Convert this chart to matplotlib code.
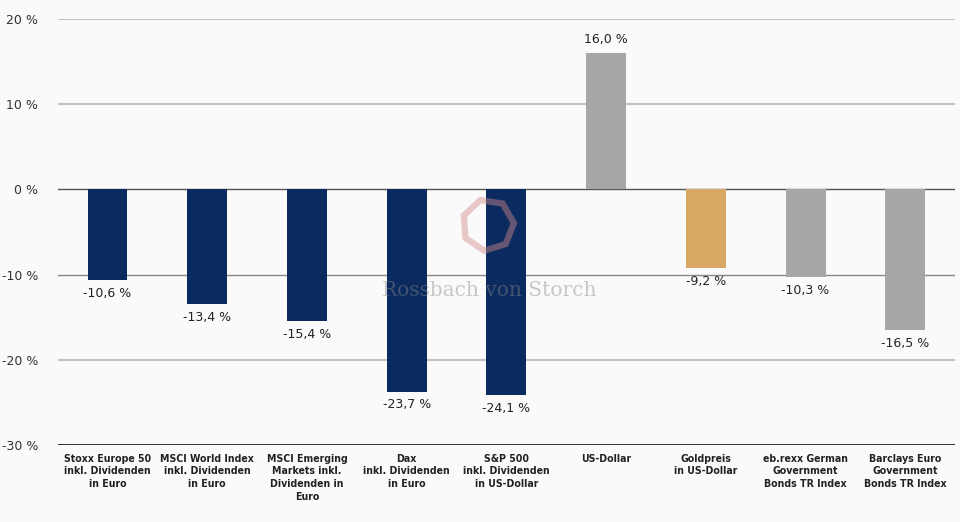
import matplotlib.pyplot as plt
from matplotlib.patches import RegularPolygon
from matplotlib.transforms import IdentityTransform

# Daten
kategorien = [
    "Stoxx Europe 50\ninkl. Dividenden\nin Euro",
    "MSCI World Index\ninkl. Dividenden\nin Euro",
    "MSCI Emerging\nMarkets inkl.\nDividenden in\nEuro",
    "Dax\ninkl. Dividenden\nin Euro",
    "S&P 500\ninkl. Dividenden\nin US-Dollar",
    "US-Dollar",
    "Goldpreis\nin US-Dollar",
    "eb.rexx German\nGovernment\nBonds TR Index",
    "Barclays Euro\nGovernment\nBonds TR Index",
]
werte = [-10.6, -13.4, -15.4, -23.7, -24.1, 16.0, -9.2, -10.3, -16.5]
farben = ["#0b2a5f"] * 5 + ["#a6a6a6", "#d8a764", "#a6a6a6", "#a6a6a6"]
yticks = [20, 10, 0, -10, -20, -30]

fig = plt.figure(figsize=(9.6, 5.22), dpi=100, facecolor="#fafafa")
ax = fig.add_axes([0.060, 0.147, 0.935, 0.817])
ax.set_facecolor("#fafafa")

x = range(len(werte))
ax.bar(x, werte, width=0.4, color=farben, zorder=3)

ax.set_ylim(-30, 20)
ax.set_xlim(-0.5, len(werte) - 0.5)
ax.set_yticks(yticks)
ax.set_yticklabels(["%d %%" % t for t in yticks], fontsize=9, color="#333333")
ax.set_xticks(list(x))
ax.set_xticklabels(kategorien, fontsize=7.6, fontweight="bold", color="#222222",
                   fontstretch="condensed", linespacing=1.35)
ax.tick_params(axis="both", length=0, pad=6)
ax.tick_params(axis="y", pad=14)

for t in yticks:
    if t == 0:
        ax.axhline(t, color="#555555", lw=1.0, zorder=2)
    elif t == -30:
        ax.axhline(t, color="#111111", lw=1.2, zorder=4)
    elif t == -10:
        ax.axhline(t, color="#888888", lw=1.0, zorder=2)
    else:
        ax.axhline(t, color="#c4c4c4", lw=1.5, zorder=2)

for s in ax.spines.values():
    s.set_visible(False)

# Werte beschriften
for i, v in enumerate(werte):
    txt = ("%.1f %%" % v).replace(".", ",")
    if v >= 0:
        ax.text(i, v + 0.8, txt, ha="center", va="bottom", fontsize=9, color="#222222")
    else:
        ax.text(i, v - 0.8, txt, ha="center", va="top", fontsize=9, color="#222222")

# Wasserzeichen (in Pixeln, damit der Ring rund bleibt)
ring = RegularPolygon((488, 522 - 225), numVertices=7, radius=26,
                      transform=IdentityTransform(), fill=False,
                      edgecolor="#d48a8a", lw=4.5, alpha=0.45, zorder=5,
                      orientation=0.3)
fig.add_artist(ring)
ax.text(3.83, -11.8, "Rossbach von Storch", ha="center", va="center",
        fontsize=14.5, family="DejaVu Serif", color="#888888", alpha=0.45, zorder=5)

fig.savefig("out.png", dpi=100, facecolor=fig.get_facecolor())
